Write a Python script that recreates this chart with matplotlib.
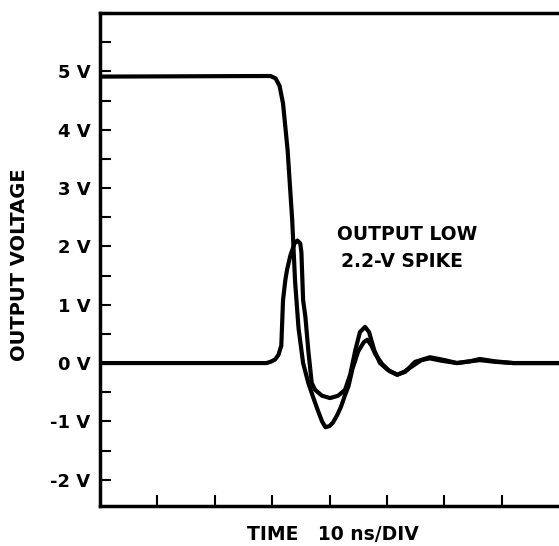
import matplotlib
matplotlib.use("Agg")
import matplotlib.pyplot as plt
from matplotlib.ticker import FixedLocator, MultipleLocator

# ---- data (time in ns, voltage in V) ----
time_high = [0, 29.0, 29.7, 30.6, 31.3, 31.9, 32.7, 33.5, 34.0, 34.6,
             35.4, 36.3, 37.2, 38.0, 38.7, 39.3, 40.0, 40.6, 41.3, 42.0,
             42.7, 43.3, 44.0, 45.0, 46.0, 46.6, 47.3, 48.0, 49.2, 50.5,
             51.8, 53.0, 54.5, 56.0, 57.5, 59.5, 62.2, 64.5, 66.2, 69.0,
             72.0, 76.0, 80.0]
volt_high = [4.91, 4.92, 4.92, 4.88, 4.75, 4.45, 3.65, 2.45, 1.4, 0.6,
             0.0, -0.34, -0.6, -0.82, -1.0, -1.1, -1.08, -1.02, -0.9, -0.75,
             -0.55, -0.4, -0.1, 0.2, 0.36, 0.4, 0.3, 0.15, -0.02, -0.14,
             -0.2, -0.15, -0.05, 0.05, 0.08, 0.04, 0.0, 0.03, 0.05, 0.02,
             0.0, 0.0, 0.0]

time_low = [0, 29.0, 29.7, 30.5, 31.1, 31.6, 31.9, 32.3, 32.6, 33.2,
            33.9, 34.4, 34.9, 35.1, 35.4, 35.8, 36.3, 36.9, 37.5, 38.7,
            40.1, 41.5, 42.7, 43.6, 44.5, 45.3, 46.2, 46.9, 47.8, 48.8,
            50.2, 51.8, 53.2, 54.9, 57.5, 60.1, 62.2, 64.5, 66.2, 68.8,
            72.0, 75.8, 80.0]
volt_low = [0.0, 0.0, 0.02, 0.06, 0.14, 0.3, 1.08, 1.42, 1.6, 1.85,
            2.05, 2.1, 2.05, 1.9, 1.08, 0.79, 0.22, -0.34, -0.46, -0.56,
            -0.6, -0.56, -0.46, -0.2, 0.22, 0.53, 0.62, 0.53, 0.22, 0.0,
            -0.12, -0.2, -0.15, 0.02, 0.1, 0.05, 0.0, 0.03, 0.07, 0.03,
            0.0, 0.0, 0.0]

y_tick_values = [-2, -1, 0, 1, 2, 3, 4, 5]
y_tick_labels = ["-2 V", "-1 V", "0 V", "1 V", "2 V", "3 V", "4 V", "5 V"]
x_tick_values = [10, 20, 30, 40, 50, 60, 70]

annot_line1 = "OUTPUT LOW"
annot_line2 = "2.2-V SPIKE"

# ---- figure ----
plt.rcParams['font.family'] = ['DejaVu Sans']
plt.rcParams['font.weight'] = 'bold'

fig = plt.figure(figsize=(5.59, 5.46), dpi=100)
ax = fig.add_axes([100 / 559, 1 - 506 / 546, 459 / 559, (506 - 13) / 546])

for t, v in ((time_high, volt_high), (time_low, volt_low)):
    ax.plot(t, v, color='black', lw=3.0, solid_joinstyle='round',
            solid_capstyle='round')

ax.set_xlim(0, 80)
ax.set_ylim(-2.45, 6.0)

ax.yaxis.set_major_locator(FixedLocator(y_tick_values))
ax.set_yticklabels(y_tick_labels, fontsize=13, fontweight='bold')
ax.yaxis.set_minor_locator(MultipleLocator(0.5))
ax.xaxis.set_major_locator(FixedLocator(x_tick_values))
ax.set_xticklabels([])

ax.tick_params(axis='both', which='both', direction='in', length=8,
               width=1.5, color='black')
ax.tick_params(axis='y', which='major', pad=7)
ax.tick_params(axis='x', which='both', top=False)
ax.tick_params(axis='y', which='both', right=False)

for side in ('left', 'bottom', 'top'):
    ax.spines[side].set_linewidth(2.5)
ax.spines['right'].set_visible(False)

ax.set_ylabel("OUTPUT VOLTAGE", fontsize=14, fontweight='bold')
ax.yaxis.set_label_coords(-0.154, 0.489)
ax.set_xlabel("TIME   10 ns/DIV", fontsize=13.5, fontweight='bold')
ax.xaxis.set_label_coords(0.508, -0.038)

ax.text(41.3, 2.11, annot_line1, fontsize=13.5, fontweight='bold',
        ha='left', va='baseline')
ax.text(42.0, 1.64, annot_line2, fontsize=13.5, fontweight='bold',
        ha='left', va='baseline')

fig.savefig("out.png", dpi=100)
